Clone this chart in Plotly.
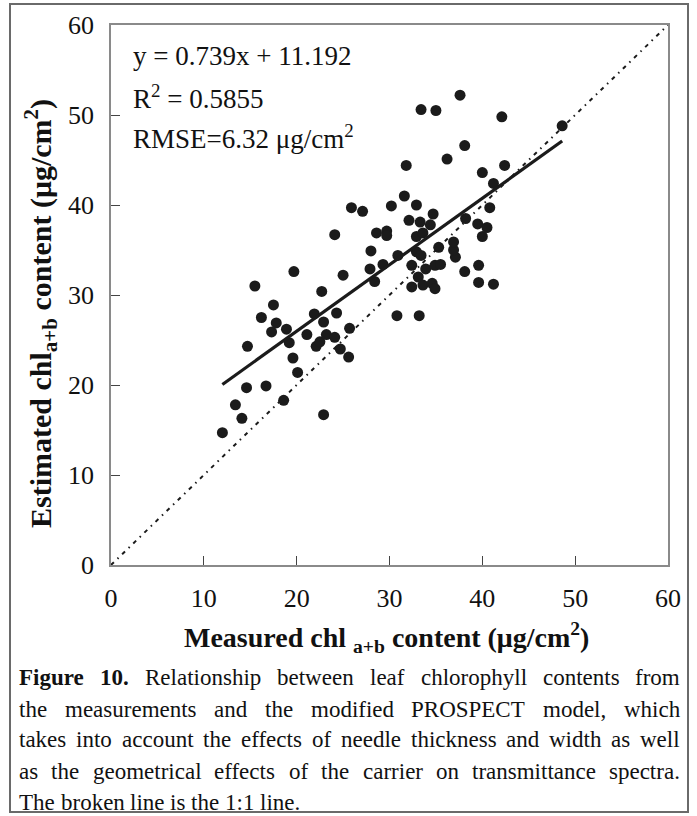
import plotly.graph_objects as go

# Measured vs. PROSPECT-estimated leaf chlorophyll a+b (µg/cm²)
measured = [12.0, 13.4, 14.1, 14.6, 14.7, 15.5, 16.2, 16.7, 17.3, 17.5,
            17.8, 18.6, 18.9, 19.2, 19.6, 19.7, 20.1, 21.1, 21.9, 22.1,
            22.5, 22.7, 22.9, 22.9, 23.2, 24.1, 24.1, 24.3, 24.7, 25.0,
            25.6, 25.7, 25.9, 27.1, 27.9, 28.0, 28.4, 28.6, 29.3, 29.7,
            29.7, 30.2, 30.8, 30.9, 31.6, 31.8, 32.1, 32.4, 32.4, 32.9,
            32.9, 32.9, 33.1, 33.2, 33.3, 33.4, 33.4, 33.6, 33.6, 33.9,
            34.4, 34.6, 34.7, 34.9, 34.9, 35.0, 35.3, 35.5, 36.2, 37.1,
            36.9, 36.9, 37.6, 38.1, 38.1, 38.2, 39.5, 39.6, 39.6, 40.0,
            40.0, 40.5, 40.8, 41.2, 41.2, 42.1, 42.4, 48.6]
estimated = [14.7, 17.8, 16.3, 19.7, 24.3, 31.0, 27.5, 19.9, 25.9, 28.9,
             26.9, 18.3, 26.2, 24.7, 23.0, 32.6, 21.4, 25.6, 27.9, 24.3,
             24.8, 30.4, 27.0, 16.7, 25.6, 25.3, 36.7, 28.0, 24.0, 32.2,
             23.1, 26.3, 39.7, 39.3, 32.9, 34.9, 31.5, 36.9, 33.4, 37.1,
             36.6, 39.9, 27.7, 34.4, 41.0, 44.4, 38.3, 33.3, 30.9, 40.0,
             36.5, 34.8, 32.0, 27.7, 38.1, 34.4, 50.6, 36.9, 31.1, 32.9,
             37.8, 31.3, 39.0, 33.3, 30.7, 50.5, 35.3, 33.4, 45.1, 34.2,
             35.0, 35.9, 52.2, 32.6, 46.6, 38.5, 37.9, 33.3, 31.4, 43.6,
             36.5, 37.5, 39.7, 42.4, 31.2, 49.8, 44.4, 48.8]

# Linear fit reported on the chart
slope = 0.739
intercept = 11.192
r_squared = 0.5855
rmse = 6.32

axis_ticks = [0, 10, 20, 30, 40, 50, 60]

caption_lines = [
    [("Figure", True), ("10.", True), ("Relationship", False), ("between", False),
     ("leaf", False), ("chlorophyll", False), ("contents", False), ("from", False)],
    [(w, False) for w in "the measurements and the modified PROSPECT model, which".split()],
    [(w, False) for w in "takes into account the effects of needle thickness and width as well".split()],
    [(w, False) for w in "as the geometrical effects of the carrier on transmittance spectra.".split()],
    [(w, False) for w in "The broken line is the 1:1 line.".split()],
]

W, H = 697, 816
PL, PR, PT, PB = 111, 668, 25, 565  # plot area in pixels

def px(x):
    return (x - PL) / (PR - PL)

def py(y):
    return (PB - y) / (PB - PT)

SERIF = "Liberation Serif, Times New Roman, serif"

# Times-Roman / Times-Bold advance widths (per 1000 em)
TIMES = dict(zip("ABCDEFGHIJKLMNOPQRSTUVWXYZ",
                 [722, 667, 667, 722, 611, 556, 722, 722, 333, 389, 722, 611, 889,
                  722, 722, 556, 722, 667, 556, 611, 722, 722, 944, 722, 722, 611]))
TIMES.update(zip("abcdefghijklmnopqrstuvwxyz",
                 [444, 500, 444, 500, 444, 333, 500, 500, 278, 278, 500, 278, 778,
                  500, 500, 500, 500, 333, 389, 278, 500, 500, 722, 500, 500, 444]))
TIMES.update({c: 500 for c in "0123456789"})
TIMES.update({".": 250, ",": 250, ":": 278, " ": 250})
TIMES_B = dict(TIMES)
TIMES_B.update({"F": 611, "u": 556, "r": 444})

def text_width(word, bold, size):
    table = TIMES_B if bold else TIMES
    return sum(table.get(c, 500) for c in word) * size / 1000.0

fig = go.Figure()

# 1:1 reference line
fig.add_trace(go.Scatter(
    x=[axis_ticks[0], axis_ticks[-1]], y=[axis_ticks[0], axis_ticks[-1]],
    mode="lines", line=dict(color="#1b1b1b", width=2, dash="4px,5px,1.5px,5px"),
    hoverinfo="skip", showlegend=False))

# Sample points
fig.add_trace(go.Scatter(
    x=measured, y=estimated, mode="markers",
    marker=dict(size=11, color="#1b1b1b", line=dict(width=0)),
    showlegend=False))

# Regression line over the measured range
x_fit = [min(measured), max(measured)]
fig.add_trace(go.Scatter(
    x=x_fit, y=[slope * v + intercept for v in x_fit],
    mode="lines", line=dict(color="#1b1b1b", width=3.2),
    hoverinfo="skip", showlegend=False))

axis_style = dict(
    range=[axis_ticks[0], axis_ticks[-1]], tickvals=axis_ticks,
    showgrid=False, zeroline=False, showline=True, mirror=True,
    linecolor="#8a8a8a", linewidth=1.5,
    ticks="inside", ticklen=9, tickwidth=1.2, tickcolor="#444444",
    tickfont=dict(family=SERIF, size=26, color="#111111"),
)
fig.update_xaxes(**axis_style, ticklabelstandoff=9)
fig.update_yaxes(**axis_style, ticklabelstandoff=10)

annotations = []
stats = [
    f"y = {slope}x + {intercept}",
    f"R<sup>2</sup> = {r_squared}",
    f"RMSE={rmse} μg/cm<sup>2</sup>",
]
for text, yc in zip(stats, [56, 97, 137]):
    annotations.append(dict(
        x=px(131), y=py(yc), xref="paper", yref="paper", text=text,
        xanchor="left", yanchor="middle", showarrow=False,
        font=dict(family=SERIF, size=27, color="#111111")))

# Axis titles
annotations.append(dict(
    x=px(386), y=py(637), xref="paper", yref="paper",
    text="<b>Measured chl <sub>a+b</sub> content (μg/cm<sup>2</sup>)</b>",
    xanchor="center", yanchor="middle", showarrow=False,
    font=dict(family=SERIF, size=28, color="#111111")))
annotations.append(dict(
    x=px(40), y=py(314), xref="paper", yref="paper",
    text="<b>Estimated chl<sub>a+b</sub> content (μg/cm<sup>2</sup>)</b>",
    textangle=-90, xanchor="center", yanchor="middle", showarrow=False,
    font=dict(family=SERIF, size=30, color="#111111")))

# Justified caption, placed word by word
CAP_SIZE = 23
CAP_LEFT, CAP_RIGHT = 18, 679
cap_y = [677, 709, 740, 771, 802]
for i, (words, yc) in enumerate(zip(caption_lines, cap_y)):
    widths = [text_width(w, b, CAP_SIZE) for w, b in words]
    last = i == len(caption_lines) - 1
    if last:
        gap = 0.25 * CAP_SIZE
    else:
        gap = (CAP_RIGHT - CAP_LEFT - sum(widths)) / (len(words) - 1)
    xpos = CAP_LEFT
    for (w, b), wd in zip(words, widths):
        annotations.append(dict(
            x=px(xpos), y=py(yc), xref="paper", yref="paper",
            text=f"<b>{w}</b>" if b else w,
            xanchor="left", yanchor="middle", showarrow=False, borderpad=0,
            font=dict(family=SERIF, size=CAP_SIZE, color="#111111")))
        xpos += wd + gap

# Outer frame around figure and caption
shapes = [dict(type="rect", xref="paper", yref="paper",
               x0=px(10), x1=px(688), y0=py(812), y1=py(4),
               line=dict(color="#6a6a6a", width=2), fillcolor="rgba(0,0,0,0)")]

fig.update_layout(
    width=W, height=H,
    margin=dict(l=PL, r=W - PR, t=PT, b=H - PB),
    paper_bgcolor="white", plot_bgcolor="white",
    annotations=annotations, shapes=shapes,
    showlegend=False,
)

fig.write_html("out.html")
